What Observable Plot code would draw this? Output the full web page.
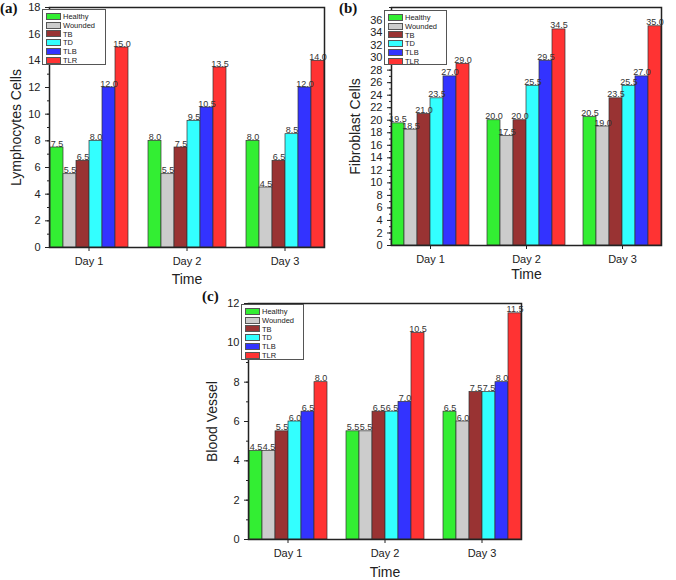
<!DOCTYPE html>
<html>
<head>
<meta charset="utf-8">
<script src="https://cdn.jsdelivr.net/npm/d3@7"></script>
<script src="https://cdn.jsdelivr.net/npm/@observablehq/plot@0.6"></script>
<style>
  body { margin: 0; background: #fff; }
  #root { position: relative; width: 676px; height: 580px; background: #fff; overflow: hidden; font-family: "Liberation Sans", Arial, sans-serif; }
  .panel { position: absolute; }
  .panel svg { display: block; overflow: visible; }
  .panel g[aria-label="y-axis label"] text, .panel g[aria-label="fx-axis label"] text { font-size: 14px; fill: #222; }
  .tag { position: absolute; font-family: "Liberation Serif", "DejaVu Serif", "Times New Roman", serif; font-weight: bold; font-size: 15px; line-height: 15px; color: #111; }
  .legend { position: absolute; border: 1px solid #555; background: #fff; box-sizing: border-box; padding: 2px 3px; }
  .legend .row { display: flex; align-items: center; height: 8.8px; font-size: 7.5px; color: #222; }
  .legend .sw { width: 15px; height: 7px; border: 1px solid #555; box-sizing: border-box; margin-right: 2px; }
</style>
</head>
<body>
<div id="root"></div>
<script>
// ---- data ----
const days = ["Day 1", "Day 2", "Day 3"];
const groups = ["Healthy", "Wounded", "TB", "TD", "TLB", "TLR"];
const groupColors = ["#33ee33", "#cccccc", "#993333", "#33ffff", "#3333ff", "#ff3333"];
// values per day, in group order
const lymphocytes = [
  [7.5, 5.5, 6.5, 8.0, 12.0, 15.0],
  [8.0, 5.5, 7.5, 9.5, 10.5, 13.5],
  [8.0, 4.5, 6.5, 8.5, 12.0, 14.0]
];
const fibroblast = [
  [19.5, 18.5, 21.0, 23.5, 27.0, 29.0],
  [20.0, 17.5, 20.0, 25.5, 29.5, 34.5],
  [20.5, 19.0, 23.5, 25.5, 27.0, 35.0]
];
const bloodVessel = [
  [4.5, 4.5, 5.5, 6.0, 6.5, 8.0],
  [5.5, 5.5, 6.5, 6.5, 7.0, 10.5],
  [6.5, 6.0, 7.5, 7.5, 8.0, 11.5]
];
const ticksA = [0, 2, 4, 6, 8, 10, 12, 14, 16, 18];
const ticksB = [0, 2, 4, 6, 8, 10, 12, 14, 16, 18, 20, 22, 24, 26, 28, 30, 32, 34, 36];
const ticksC = [0, 2, 4, 6, 8, 10, 12];
const yLabels = ["Lymphocytes Cells", "Fibroblast Cells", "Blood Vessel"];
const xLabel = "Time";
const tags = ["(a)", "(b)", "(c)"];

function toRows(values) {
  const rows = [];
  days.forEach((day, i) => groups.forEach((g, j) => rows.push({day, group: g, value: values[i][j]})));
  return rows;
}

const root = document.getElementById("root");

function panel(cfg) {
  const data = toRows(cfg.values);
  const [y0, y1] = cfg.yDomain;
  const minor = d3.range(y0, y1 + 0.001, cfg.minorStep);
  const chart = Plot.plot({
    width: cfg.width, height: cfg.height,
    marginLeft: cfg.m[0], marginRight: cfg.m[1], marginTop: cfg.m[2], marginBottom: cfg.m[3],
    style: {fontFamily: "'Liberation Sans', Arial, sans-serif", fontSize: "11px", color: "#222", background: "transparent"},
    x: {domain: groups, paddingInner: 0, paddingOuter: 0, axis: null},
    fx: {domain: days, paddingInner: 0.19, paddingOuter: 0.095},
    y: {domain: cfg.yDomain},
    color: {domain: groups, range: groupColors},
    marks: [
      Plot.barY(data, {fx: "day", x: "group", y: "value", fill: "group", stroke: "#333", strokeWidth: 0.7}),
      Plot.text(data, {fx: "day", x: "group", y: "value", text: d => d.value.toFixed(1), lineAnchor: "bottom", dy: -1, fontSize: 9, fill: "#333"}),
      Plot.axisY({ticks: minor, tickSize: 2, tickFormat: () => "", label: null, stroke: "#222"}),
      Plot.axisY({ticks: cfg.ticks, tickSize: 4, tickPadding: 5, fontSize: 11, label: cfg.yLabel, labelAnchor: "center", labelArrow: "none", labelOffset: cfg.yLabelOffset, stroke: "#222"}),
      Plot.axisFx({anchor: "bottom", tickSize: 4, tickPadding: 6, fontSize: 11, label: xLabel, labelAnchor: "center", labelArrow: "none", labelOffset: cfg.xLabelOffset}),
      Plot.frame({facet: "super", stroke: "#222", strokeWidth: 1.5})
    ]
  });
  const div = document.createElement("div");
  div.className = "panel";
  div.style.left = cfg.left + "px";
  div.style.top = cfg.top + "px";
  div.appendChild(chart);
  root.appendChild(div);

  const tag = document.createElement("div");
  tag.className = "tag";
  tag.textContent = cfg.tag;
  tag.style.left = cfg.tagPos[0] + "px";
  tag.style.top = cfg.tagPos[1] + "px";
  root.appendChild(tag);

  const leg = document.createElement("div");
  leg.className = "legend";
  leg.style.left = cfg.legend[0] + "px";
  leg.style.top = cfg.legend[1] + "px";
  leg.style.width = cfg.legend[2] + "px";
  leg.style.height = cfg.legend[3] + "px";
  groups.forEach((g, i) => {
    const row = document.createElement("div");
    row.className = "row";
    const sw = document.createElement("div");
    sw.className = "sw";
    sw.style.background = groupColors[i];
    const lab = document.createElement("span");
    lab.textContent = g;
    row.appendChild(sw);
    row.appendChild(lab);
    leg.appendChild(row);
  });
  root.appendChild(leg);
}

panel({values: lymphocytes, yDomain: [0, 18], ticks: ticksA, minorStep: 1, yLabel: yLabels[0],
  width: 336, height: 290, m: [40, 2, 7, 43], left: 0, top: 0, yLabelOffset: 38, xLabelOffset: 36,
  tag: tags[0], tagPos: [0, 1], legend: [42, 9, 64, 56]});
panel({values: fibroblast, yDomain: [0, 38], ticks: ticksB, minorStep: 1, yLabel: yLabels[1],
  width: 340, height: 290, m: [45, 6, 7, 45], left: 336, top: 0, yLabelOffset: 41, xLabelOffset: 33,
  tag: tags[1], tagPos: [339, 1], legend: [384, 10, 63, 55]});
panel({values: bloodVessel, yDomain: [0, 12], ticks: ticksC, minorStep: 1, yLabel: yLabels[2],
  width: 345, height: 290, m: [49, 5, 13, 41], left: 190, top: 290, yLabelOffset: 41, xLabelOffset: 37,
  tag: tags[2], tagPos: [202, 289], legend: [241, 304, 63, 56]});
</script>
</body>
</html>
